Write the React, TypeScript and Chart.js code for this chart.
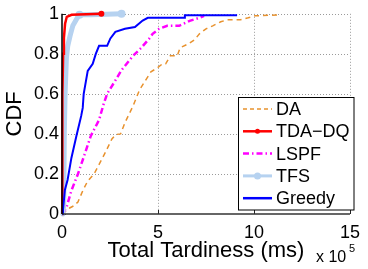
import React, { useEffect, useRef } from 'react';
import { Chart, registerables } from 'chart.js';
Chart.register(...registerables);

const seriesNames = ['DA', 'TDA−DQ', 'LSPF', 'TFS', 'Greedy'];

const daX = [0, 0.15, 0.4, 0.6, 0.83, 1.1, 1.34, 1.67, 2.0, 2.27, 2.6, 2.8, 3.05, 3.28, 3.5, 3.7, 4.04, 4.3, 4.63, 4.97, 5.23, 5.4, 5.64, 6.0, 6.15, 6.58, 6.9, 7.16, 7.5, 7.85, 8.27, 8.6, 9.29, 9.7, 10.05, 11.4];
const daY = [0, 0.01, 0.03, 0.04, 0.06, 0.12, 0.165, 0.2, 0.26, 0.31, 0.375, 0.397, 0.4, 0.456, 0.5, 0.54, 0.62, 0.66, 0.71, 0.73, 0.75, 0.75, 0.79, 0.79, 0.83, 0.85, 0.87, 0.9, 0.925, 0.94, 0.96, 0.97, 0.97, 0.98, 0.99, 0.995];

const tdaX = [0, 0.01, 0.03, 0.06, 0.1, 0.16, 0.25, 0.5, 2.05];
const tdaY = [0, 0.3, 0.6, 0.8, 0.88, 0.95, 0.985, 0.995, 1.0];

const lspfX = [0, 0.1, 0.24, 0.49, 0.83, 1.17, 1.5, 1.93, 2.18, 2.35, 2.78, 3.11, 3.7, 4.13, 4.55, 4.72, 5.06, 5.48, 6.1, 6.65, 7.16, 7.4];
const lspfY = [0, 0.01, 0.035, 0.117, 0.2, 0.295, 0.39, 0.47, 0.553, 0.6, 0.667, 0.72, 0.79, 0.83, 0.877, 0.9, 0.925, 0.94, 0.94, 0.965, 0.98, 0.99];

const tfsX = [0.05, 0.09, 0.12, 0.16, 0.23, 0.3, 0.42, 0.56, 0.8, 0.91, 1.5, 3.1];
const tfsY = [0, 0.05, 0.4, 0.6, 0.78, 0.84, 0.89, 0.94, 0.98, 0.995, 0.995, 1.0];
const tfsMarkerX = [0.91, 3.1];

const greedyX = [0, 0.05, 0.15, 0.29, 0.49, 0.75, 1.0, 1.08, 1.13, 1.34, 1.6, 1.76, 1.93, 2.35, 2.52, 2.78, 3.28, 3.8, 4.2, 4.47, 6.36, 6.4, 9.12];
const greedyY = [0, 0.02, 0.12, 0.17, 0.28, 0.39, 0.49, 0.53, 0.6, 0.715, 0.75, 0.8, 0.84, 0.84, 0.877, 0.91, 0.925, 0.934, 0.966, 0.98, 0.98, 0.993, 0.993];

const xTicks = [0, 5, 10, 15];
const xTickLabels = ['0', '5', '10', '15'];
const yTicks = [0, 0.2, 0.4, 0.6, 0.8, 1];
const yTickLabels = ['0', '0.2', '0.4', '0.6', '0.8', '1'];

const xTitle = 'Total Tardiness (ms)';
const yTitle = 'CDF';
const expBase = 'x 10';
const expPow = '5';

const FONT = 'Arial, "Liberation Sans", Helvetica, sans-serif';

const colors = {
  da: '#e8922e',
  tda: '#ff0000',
  lspf: '#ff00ff',
  tfs: '#b6d2f0',
  greedy: '#0000ff',
};

const zip = (xs: number[], ys: number[]) => xs.map((x, i) => ({ x, y: ys[i] }));

const legendStyles = [
  { color: colors.da, width: 1.5, dash: [4, 3], marker: 0 },
  { color: colors.tda, width: 2.5, dash: [], marker: 2.5 },
  { color: colors.lspf, width: 2.5, dash: [6, 3, 1.5, 3], marker: 0 },
  { color: colors.tfs, width: 3, dash: [], marker: 3.5 },
  { color: colors.greedy, width: 2.5, dash: [], marker: 0 },
];

const framePlugin = {
  id: 'frame',
  beforeDatasetsDraw(chart: any) {
    const { ctx, chartArea, scales } = chart;
    const { left, right, top, bottom } = chartArea;
    ctx.save();
    ctx.strokeStyle = '#9a9a9a';
    ctx.lineWidth = 1;
    ctx.setLineDash([1, 2]);
    xTicks.forEach((v) => {
      if (v === 0) return;
      const px = Math.round(scales.x.getPixelForValue(v)) + 0.5;
      ctx.beginPath();
      ctx.moveTo(px, top);
      ctx.lineTo(px, bottom);
      ctx.stroke();
    });
    yTicks.forEach((v) => {
      if (v === 0) return;
      const py = Math.round(scales.y.getPixelForValue(v)) + 0.5;
      ctx.beginPath();
      ctx.moveTo(left, py);
      ctx.lineTo(right, py);
      ctx.stroke();
    });
    ctx.setLineDash([]);
    ctx.strokeStyle = '#222';
    ctx.lineWidth = 1;
    xTicks.forEach((v) => {
      const px = Math.round(scales.x.getPixelForValue(v)) + 0.5;
      ctx.beginPath();
      ctx.moveTo(px, bottom);
      ctx.lineTo(px, bottom - 4);
      ctx.stroke();
    });
    yTicks.forEach((v) => {
      const py = Math.round(scales.y.getPixelForValue(v)) + 0.5;
      ctx.beginPath();
      ctx.moveTo(left, py);
      ctx.lineTo(left + 4, py);
      ctx.stroke();
    });
    ctx.restore();
  },
  afterDatasetsDraw(chart: any) {
    const { ctx, chartArea } = chart;
    const { left, right, top, bottom } = chartArea;
    ctx.save();
    ctx.lineWidth = 1.5;
    ctx.strokeStyle = '#333';
    ctx.beginPath();
    ctx.moveTo(left, bottom);
    ctx.lineTo(right, bottom);
    ctx.stroke();
    ctx.strokeStyle = '#000';
    ctx.beginPath();
    ctx.moveTo(left, top);
    ctx.lineTo(left, bottom);
    ctx.stroke();
    ctx.restore();
  },
  afterDraw(chart: any) {
    const { ctx } = chart;
    ctx.save();
    // legend
    const bx = 238.5, by = 97.5, bw = 115.5, bh = 112.5;
    ctx.fillStyle = '#fff';
    ctx.fillRect(bx, by, bw, bh);
    ctx.strokeStyle = '#000';
    ctx.lineWidth = 1;
    ctx.strokeRect(bx, by, bw, bh);
    ctx.font = `18px ${FONT}`;
    ctx.textBaseline = 'middle';
    ctx.textAlign = 'left';
    seriesNames.forEach((name, i) => {
      const yy = 109 + i * 22.3;
      const st = legendStyles[i];
      ctx.strokeStyle = st.color;
      ctx.lineWidth = st.width;
      ctx.setLineDash(st.dash);
      ctx.beginPath();
      ctx.moveTo(243, yy);
      ctx.lineTo(272, yy);
      ctx.stroke();
      ctx.setLineDash([]);
      if (st.marker > 0) {
        ctx.fillStyle = st.color;
        ctx.beginPath();
        ctx.arc(257.5, yy, st.marker, 0, Math.PI * 2);
        ctx.fill();
      }
      ctx.fillStyle = '#000';
      ctx.fillText(name, 276, yy + 1);
    });
    // exponent
    ctx.fillStyle = '#000';
    ctx.font = `16px ${FONT}`;
    ctx.textBaseline = 'alphabetic';
    ctx.fillText(expBase, 316, 262);
    ctx.font = `11px ${FONT}`;
    ctx.fillText(expPow, 349, 252);
    ctx.restore();
  },
};

export default function App() {
  const ref = useRef<HTMLCanvasElement | null>(null);
  useEffect(() => {
    if (!ref.current) return;
    const pr = (markers: (x: number, i: number, n: number) => boolean, r: number) => (c: any) => {
      const d = c.dataset.data;
      const p = d[c.dataIndex];
      return p && markers(p.x, c.dataIndex, d.length) ? r : 0;
    };
    const chart = new Chart(ref.current, {
      type: 'line',
      data: {
        datasets: [
          {
            label: seriesNames[0],
            data: zip(daX, daY),
            borderColor: colors.da,
            borderWidth: 1.5,
            borderDash: [5, 4],
            pointRadius: 0,
            order: 5,
          },
          {
            label: seriesNames[1],
            data: zip(tdaX, tdaY),
            borderColor: colors.tda,
            backgroundColor: colors.tda,
            borderWidth: 2.5,
            pointRadius: pr((_x, i, n) => i === n - 1, 3),
            pointBorderWidth: 0,
            order: 2,
          },
          {
            label: seriesNames[2],
            data: zip(lspfX, lspfY),
            borderColor: colors.lspf,
            borderWidth: 2.5,
            borderDash: [6, 3, 1.5, 3],
            pointRadius: 0,
            order: 4,
          },
          {
            label: seriesNames[3],
            data: zip(tfsX, tfsY),
            borderColor: colors.tfs,
            backgroundColor: colors.tfs,
            borderWidth: 5,
            borderCapStyle: 'round',
            borderJoinStyle: 'round',
            pointRadius: pr((x) => tfsMarkerX.includes(x), 4),
            pointBorderWidth: 0,
            order: 3,
          },
          {
            label: seriesNames[4],
            data: zip(greedyX, greedyY),
            borderColor: colors.greedy,
            borderWidth: 2,
            pointRadius: 0,
            order: 1,
          },
        ] as any,
      },
      options: {
        animation: false,
        responsive: false,
        devicePixelRatio: 1,
        clip: 8 as any,
        layout: { padding: { top: 8, right: 10, left: 0, bottom: 0 } },
        plugins: { legend: { display: false }, tooltip: { enabled: false } },
        elements: { line: { tension: 0, fill: false } },
        scales: {
          x: {
            type: 'linear',
            min: 0,
            max: 15,
            afterBuildTicks: (s: any) => {
              s.ticks = xTicks.map((v) => ({ value: v }));
            },
            afterFit: (s: any) => {
              s.height = 55;
            },
            grid: { display: false, drawTicks: false },
            border: { display: false },
            ticks: {
              color: '#000',
              font: { family: FONT, size: 18 },
              padding: 8,
              maxRotation: 0,
              autoSkip: false,
              callback: (v: any) => xTickLabels[xTicks.indexOf(Number(v))],
            },
            title: {
              display: true,
              text: xTitle,
              color: '#000',
              font: { family: FONT, size: 22 },
              padding: { top: 0, bottom: 5 },
            },
          },
          y: {
            type: 'linear',
            min: 0,
            max: 1,
            afterBuildTicks: (s: any) => {
              s.ticks = yTicks.map((v) => ({ value: v }));
            },
            afterFit: (s: any) => {
              s.width = 62;
            },
            grid: { display: false, drawTicks: false },
            border: { display: false },
            ticks: {
              color: '#000',
              font: { family: FONT, size: 18 },
              padding: 3,
              autoSkip: false,
              callback: (v: any) => yTickLabels[yTicks.indexOf(Number(v))],
            },
            title: {
              display: true,
              text: yTitle,
              color: '#000',
              font: { family: FONT, size: 22 },
              padding: { top: 2, bottom: 0 },
            },
          },
        },
      } as any,
      plugins: [framePlugin],
    });
    return () => chart.destroy();
  }, []);
  return (
    <div style={{ position: 'fixed', left: 0, top: 0, width: 368, height: 269, background: '#fff' }}>
      <canvas ref={ref} width={368} height={269} style={{ width: 368, height: 269, display: 'block' }} />
    </div>
  );
}
